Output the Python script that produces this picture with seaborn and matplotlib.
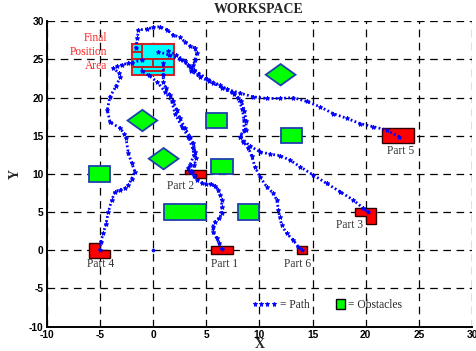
import matplotlib
matplotlib.use("Agg")
import matplotlib.pyplot as plt
from matplotlib.patches import Polygon, Rectangle
from matplotlib.lines import Line2D
import seaborn as sns
import pandas as pd

# ---------------- data ----------------
x_ticks = [-10, -5, 0, 5, 10, 15, 20, 25, 30]
y_ticks = [-10, -5, 0, 5, 10, 15, 20, 25, 30]

# rectangular obstacles (lower-left corner, width, height)
obs_rect_x = [-6, 5, 5.5, 12, 1, 8]
obs_rect_y = [9, 16, 10, 14, 4, 4]
obs_rect_w = [2, 2, 2, 2, 4, 2]
obs_rect_h = [2, 2, 2, 2, 2, 2]
# diamond obstacles (centre, half-diagonal)
obs_dia_x = [-1, 1, 12]
obs_dia_y = [17, 12, 23]
obs_dia_r = [1.4, 1.4, 1.4]

# parts (polygons)
part4_x = [-6, -4, -4, -5, -5, -6]
part4_y = [-1, -1, 0, 0, 1, 1]
part1_x = [5.5, 7.5, 7.5, 5.5]
part1_y = [-0.5, -0.5, 0.5, 0.5]
part2_x = [3, 3, 5, 5, 4, 4]
part2_y = [10, 10.5, 10.5, 9.5, 9.5, 10]
part3_x = [19, 19, 21, 21, 20, 20]
part3_y = [4.5, 5.5, 5.5, 3.5, 3.5, 4.5]
part5_x = [21.5, 24.5, 24.5, 21.5]
part5_y = [14, 14, 16, 16]
part6_x = [13.5, 14.5, 14.5, 13.5]
part6_y = [-0.5, -0.5, 0.5, 0.5]
part_names = ["Part 4", "Part 1", "Part 2", "Part 3", "Part 5", "Part 6"]
part_label_x = [-4.9, 6.7, 2.6, 18.5, 23.3, 13.6]
part_label_y = [-1.8, -1.8, 8.4, 3.3, 13.0, -1.8]

# final position area
area_x = [-2, 2, 2, -2]
area_y = [23, 23, 27, 27]
area_lines_x = [[-1, -1], [-2, -1], [-2, 2], [0, 0], [-2, 2], [-1, 1, 1, -1, -1]]
area_lines_y = [[25, 27], [26, 26], [25, 25], [24, 25], [24, 24], [23.5, 23.5, 24, 24, 23.5]]

# paths
path4_x = [-5, -4.92, -4.68, -4.42, -4.2, -3.88, -3.57, -3.1, -2.63, -2.32, -2.0, -1.7,
           -2.0, -2.32, -2.54, -2.73, -3.1, -4.05, -4.3, -4.05, -3.48, -3.1, -3.17,
           -3.73, -3.4, -2.9, -2.4, -2.0, -1.06]
path4_y = [0, 1.1, 2.2, 3.5, 5.05, 6.6, 7.7, 7.9, 8.1, 8.55, 9.4, 10.3,
           11.4, 12.7, 14.7, 15.3, 16.0, 16.8, 18.4, 20.1, 21.5, 22.65, 23.2,
           23.85, 24.1, 24.3, 24.5, 24.6, 24.9]
path2_x = [3.5, 3.32, 3.48, 3.86, 3.73, 3.32, 2.7, 2.07, 1.76, 1.13, 0.35, -0.4, -1.06]
path2_y = [10.3, 10.73, 11.2, 12.5, 13.35, 14.9, 16.2, 17.9, 19.5, 20.8, 22.1, 22.9, 23.5]
path1_x = [6.46, 6.24, 5.99, 5.67, 5.6, 5.83, 6.24, 6.46, 6.46, 6.46, 6.3, 6.14, 5.83,
           5.43, 4.99, 4.58, 4.17, 3.86, 3.64, 3.9, 4.05, 3.95, 3.79, 3.48, 3.0,
           2.54, 2.23, 1.9, 1.6, 1.22, 0.97, 0.97, 0.97]
path1_y = [0.12, 0.9, 1.56, 2.43, 3.08, 3.74, 4.18, 4.83, 5.7, 6.58, 7.24, 7.9, 8.41,
           8.68, 8.68, 8.85, 9.2, 9.72, 10.3, 11.2, 12.05, 12.9, 14.0, 14.9, 16.0,
           17.3, 18.4, 19.5, 20.3, 21.2, 22.1, 23.0, 24.5]
path5_x = [-1.6, -1.48, -1.38, -0.6, 0.03, 0.66, 1.29, 1.9, 2.54, 3.0, 3.48, 3.95, 4.1,
           3.95, 3.79, 3.6, 4.42, 5.67, 6.93, 8.18, 9.43, 10.7, 11.95, 13.2, 14.46,
           15.7, 16.96, 18.2, 19.47, 20.7, 21.98, 23.1]
path5_y = [26.5, 27.8, 28.86, 29.0, 29.2, 29.3, 28.9, 28.2, 27.9, 27.3, 26.8, 26.5, 25.8,
           24.9, 24.3, 23.5, 22.7, 21.9, 21.1, 20.6, 20.1, 19.9, 19.9, 20.0, 19.5,
           18.8, 17.9, 17.3, 16.6, 16.2, 15.75, 14.9]
path6_x = [0.5, 1.5, 2.5, 3.3, 3.9, 5.05, 6.3, 7.4, 8.0, 8.4, 8.55, 8.55, 8.2, 8.5, 8.97,
           9.29, 9.6, 10.07, 10.7, 11.32, 11.64, 11.8, 11.9, 12.1, 12.58, 13.2, 13.67, 14.0]
path6_y = [26.0, 25.6, 25.0, 24.3, 23.6, 22.5, 21.6, 20.8, 19.9, 18.5, 17.1, 15.8, 14.9,
           14.2, 13.4, 12.3, 10.9, 9.6, 8.3, 7.45, 6.58, 5.3, 4.4, 3.3, 2.2, 1.3, 0.46, 0]
path3_x = [1.44, 2.2, 3.0, 3.5, 4.2, 5.3, 6.5, 7.6, 8.3, 8.6, 8.75, 8.75, 8.18, 9.12,
           10.07, 11.0, 11.95, 12.9, 13.83, 15.08, 16.34, 17.6, 18.84, 19.78, 20.2]
path3_y = [26.1, 25.6, 24.8, 24.0, 23.1, 22.2, 21.3, 20.5, 19.6, 18.3, 17.0, 15.8, 14.9,
           13.65, 12.9, 12.6, 12.4, 11.8, 10.95, 9.85, 8.75, 7.67, 6.58, 5.5, 5.0]
origin_x = [0]
origin_y = [0]

# ---------------- style ----------------
sns.set_theme(style="white")
plt.rcParams["font.family"] = ["Liberation Sans", "DejaVu Sans"]
plt.rcParams["lines.scale_dashes"] = False

serif = ["Liberation Serif", "DejaVu Serif"]
GREEN = "#00FF00"
OBS_EDGE = "#2040B0"
RED = "#FF0000"
RED_EDGE = "#300000"
BLUE = "#0000FF"

fig = plt.figure(figsize=(4.77, 3.51), dpi=100)
ax = fig.add_axes([0.0979, 0.0695, 0.8916, 0.8698])
ax.set_xlim(-10, 30)
ax.set_ylim(-10, 30)
ax.set_xticks(x_ticks)
ax.set_yticks(y_ticks)
ax.set_xticklabels([str(v) for v in x_ticks], fontweight="bold", fontsize=7.4)
ax.set_yticklabels([str(v) for v in y_ticks], fontweight="bold", fontsize=7.4)
ax.tick_params(direction="in", length=3, width=1, colors="black", pad=2.2)
ax.grid(True, color="black", linestyle=(0, (5.5, 4.0)), linewidth=0.9)
ax.set_axisbelow(True)
for s in ["top", "right"]:
    ax.spines[s].set_visible(False)
for s in ["left", "bottom"]:
    ax.spines[s].set_color("black")
    ax.spines[s].set_linewidth(1.4)

# obstacles
for x0, y0, w, h in zip(obs_rect_x, obs_rect_y, obs_rect_w, obs_rect_h):
    ax.add_patch(Rectangle((x0, y0), w, h, facecolor=GREEN, edgecolor=OBS_EDGE, linewidth=1.3, zorder=3))
for cx, cy, r in zip(obs_dia_x, obs_dia_y, obs_dia_r):
    ax.add_patch(Polygon([(cx - r, cy), (cx, cy + r), (cx + r, cy), (cx, cy - r)], closed=True,
                         facecolor=GREEN, edgecolor=OBS_EDGE, linewidth=1.3, zorder=3))

# parts
for px, py in [(part4_x, part4_y), (part1_x, part1_y), (part2_x, part2_y),
               (part3_x, part3_y), (part5_x, part5_y), (part6_x, part6_y)]:
    ax.add_patch(Polygon(list(zip(px, py)), closed=True, facecolor=RED, edgecolor=RED_EDGE,
                         linewidth=1.0, zorder=3))
for name, lx, ly in zip(part_names, part_label_x, part_label_y):
    ax.text(lx, ly, name, ha="center", va="center", fontsize=8.3, family=serif, color="#333333", zorder=6)

# final area
ax.add_patch(Polygon(list(zip(area_x, area_y)), closed=True, facecolor="#00FFFF",
                     edgecolor="#D02828", linewidth=1.5, zorder=3))
for lx, ly in zip(area_lines_x, area_lines_y):
    ax.plot(lx, ly, color="#C02020", linewidth=1.4, zorder=4)
ax.text(-4.3, 26.0, "Final\nPosition\nArea", ha="right", va="center", fontsize=8.3,
        family=serif, color="#FF2020", linespacing=1.2, zorder=6)

# paths
for px, py in [(path4_x, path4_y), (path2_x, path2_y), (path1_x, path1_y),
               (path5_x, path5_y), (path6_x, path6_y), (path3_x, path3_y)]:
    df = pd.DataFrame({"x": px, "y": py})
    sns.lineplot(data=df, x="x", y="y", sort=False, estimator=None, ax=ax, color=BLUE,
                 linestyle=(0, (1.3, 1.7)), linewidth=2.0, marker="*", markersize=3.4,
                 markeredgewidth=0.6, markeredgecolor=BLUE, zorder=5)
sns.scatterplot(x=origin_x, y=origin_y, ax=ax, color=BLUE, s=6, edgecolor=BLUE, zorder=5)

ax.set_xlabel("X", fontsize=10, fontweight="bold", family=serif, va="center")
ax.set_ylabel("Y", fontsize=10, fontweight="bold", family=serif, va="center")
ax.xaxis.set_label_coords(0.5, -0.060)
ax.yaxis.set_label_coords(-0.075, 0.50)
fig.text(0.542, 0.974, "WORKSPACE", ha="center", va="center", fontsize=10,
         fontweight="bold", family=serif)

# legends
h1 = Line2D([], [], color=BLUE, linestyle="none", marker="*", markersize=3.6, markeredgewidth=0.6)
leg1 = ax.legend([h1], ["= Path"], loc="center left", bbox_to_anchor=(0.482, 0.071),
                 frameon=False, numpoints=4, handlelength=2.2, handletextpad=0.25,
                 borderpad=0, borderaxespad=0, prop={"family": serif, "size": 8.3})
ax.add_artist(leg1)
h2 = Rectangle((0, 0), 1, 1, facecolor=GREEN, edgecolor="black", linewidth=1)
ax.legend([h2], ["= Obstacles"], loc="center left", bbox_to_anchor=(0.680, 0.072),
          frameon=False, handlelength=0.75, handleheight=1.0, handletextpad=0.3,
          borderpad=0, borderaxespad=0, prop={"family": serif, "size": 8.3})

fig.savefig("out.png", dpi=100)
